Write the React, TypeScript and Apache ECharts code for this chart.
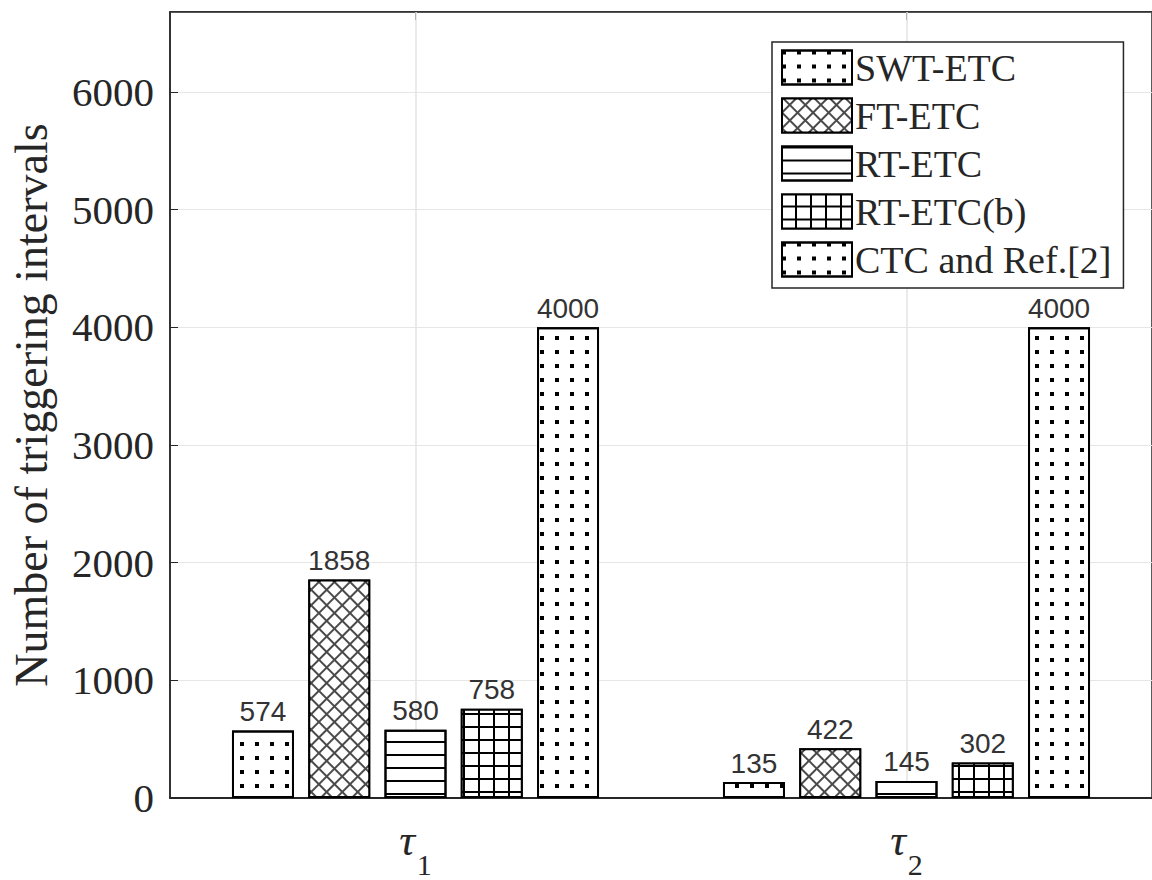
import React, { useEffect, useRef } from "react";
import * as echarts from "echarts";

const categories = ["τ1", "τ2"];
const seriesNames = ["SWT-ETC", "FT-ETC", "RT-ETC", "RT-ETC(b)", "CTC and Ref.[2]"];
const swtEtc = [574, 135];
const ftEtc = [1858, 422];
const rtEtc = [580, 145];
const rtEtcB = [758, 302];
const ctcRef = [4000, 4000];
const yTicks = [0, 1000, 2000, 3000, 4000, 5000, 6000];

const serif = "'Liberation Serif', 'Times New Roman', serif";
const sans = "'Liberation Sans', Arial, sans-serif";

const dots = {
  symbol: "rect", symbolSize: 1, color: "#000",
  dashArrayX: [4, 11], dashArrayY: [4, 10],
};
const cross = {
  symbol: "rect", symbolSize: 1, color: "#fff",
  dashArrayX: [9, 2], dashArrayY: [9, 2], rotation: Math.PI / 4,
};
const hlines = {
  symbol: "rect", symbolSize: 1, color: "#000",
  dashArrayX: [1, 0], dashArrayY: [2, 11],
};
const gridPat = {
  symbol: "rect", symbolSize: 1, color: "#fff",
  dashArrayX: [13, 2], dashArrayY: [11, 2],
};

const allData = [swtEtc, ftEtc, rtEtc, rtEtcB, ctcRef];
const decals = [dots, cross, hlines, gridPat, dots];
const fills = ["#fff", "#4a4a4a", "#fff", "#000", "#fff"];

export default function App() {
  const ref = useRef<HTMLDivElement>(null);
  useEffect(() => {
    if (!ref.current) return;
    const chart = echarts.init(ref.current, null, { renderer: "svg" });
    const series: any[] = seriesNames.map((name, i) => ({
      type: "bar",
      name,
      data: allData[i],
      barWidth: 62,
      barGap: "23%",
      z: 2,
      itemStyle: { color: fills[i], borderColor: "#000", borderWidth: 2, decal: decals[i] },
      label: {
        show: true, position: "top", distance: 5,
        fontFamily: sans, fontSize: 28, color: "#333",
      },
      ...(i === 2
        ? {
            markLine: {
              silent: true, z: 1, symbol: ["none", "none"],
              label: { show: false },
              lineStyle: { color: "#e3e3e3", type: "solid", width: 1.5 },
              data: categories.map((c) => ({ xAxis: c })),
            },
          }
        : {}),
    }));
    chart.setOption({
      animation: false,
      backgroundColor: "#fff",
      grid: {
        left: 165, top: 12, width: 992, bottom: 82,
        show: true, borderColor: "#262626", borderWidth: 1.5, backgroundColor: "#fff",
      },
      legend: {
        orient: "vertical", left: 772, top: 42,
        data: seriesNames,
        icon: "rect", itemWidth: 70, itemHeight: 34, itemGap: 9,
        padding: [6, 12, 9, 9],
        borderColor: "#262626", borderWidth: 1.5, backgroundColor: "#fff",
        textStyle: { fontFamily: serif, fontSize: 38, color: "#262626", lineHeight: 39, padding: [0, 0, 0, -2] },
        itemStyle: { borderColor: "#000", borderWidth: 2 },
      },
      xAxis: [
        {
          type: "category", data: categories, position: "bottom",
          axisLine: { show: true, lineStyle: { color: "#262626", width: 2 } },
          axisTick: { show: true, inside: true, alignWithLabel: true, length: 8, lineStyle: { color: "#262626" } },
          splitLine: { show: false },
          axisLabel: {
            margin: 20,
            formatter: (v: string) => `{t|${v.charAt(0)}}{s|${v.slice(1)}}`,
            rich: {
              t: { fontFamily: serif, fontStyle: "italic", fontSize: 44, lineHeight: 44, color: "#262626", verticalAlign: "top" },
              s: { fontFamily: serif, fontSize: 30, lineHeight: 30, color: "#262626", verticalAlign: "top", padding: [31, 0, 0, 2] },
            },
          },
        },
        {
          type: "category", data: categories, position: "top",
          axisLine: { show: true, lineStyle: { color: "#262626", width: 1.5 } },
          axisTick: { show: true, inside: true, alignWithLabel: true, length: 8, lineStyle: { color: "#262626" } },
          axisLabel: { show: false },
          splitLine: { show: false },
        },
      ],
      yAxis: {
        type: "value", min: 0, max: 6680, interval: 1000,
        name: "Number of triggering intervals",
        nameLocation: "middle", nameGap: 116,
        nameTextStyle: { fontFamily: serif, fontSize: 46, color: "#262626" },
        axisLine: { show: true, lineStyle: { color: "#262626", width: 1.5 } },
        axisTick: { show: true, inside: true, length: 8, lineStyle: { color: "#262626" } },
        axisLabel: {
          fontFamily: serif, fontSize: 41, color: "#262626", margin: 16,
          showMaxLabel: false,
          formatter: (v: number) => (yTicks.includes(v) ? String(v) : ""),
        },
        splitLine: { show: true, lineStyle: { color: "#e6e6e6", width: 1.2 } },
      },
      series,
    });
    return () => chart.dispose();
  }, []);
  return (
    <div
      ref={ref}
      style={{ position: "fixed", left: 0, top: 0, width: 1152, height: 880 }}
    />
  );
}
